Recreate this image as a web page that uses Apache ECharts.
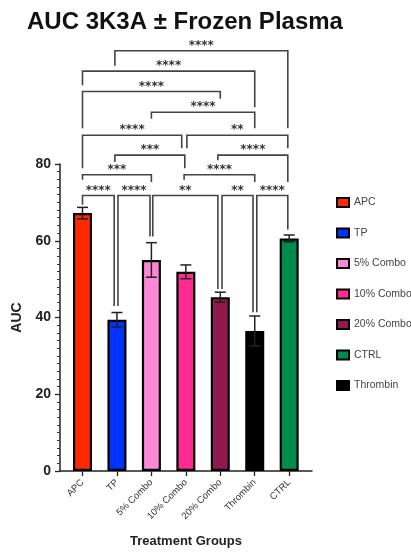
<!DOCTYPE html>
<html><head><meta charset="utf-8">
<script src="https://cdn.jsdelivr.net/npm/echarts@6/dist/echarts.min.js"></script>
<style>html,body{margin:0;padding:0;background:#fff}#c{width:411px;height:553px}</style>
</head><body><div id="c"></div>
<script>
const categories = ['APC','TP','5% Combo','10% Combo','20% Combo','Thrombin','CTRL'];
const means = [67.2, 39.4, 55.0, 51.9, 45.3, 36.5, 60.6];
const sds = [1.5, 1.9, 4.5, 1.8, 1.3, 3.9, 0.9];
const barColors = ['#ff2a00','#0033ff','#ff88d6','#ff2a92','#8e1a50','#000000','#008a4c'];
const legendOrder = ['APC','TP','5% Combo','10% Combo','20% Combo','CTRL','Thrombin'];
const yTicks = [0,20,40,60,80];

// significance brackets: group index from/to, bar level, drop ends (AUC units), stars
const bracketFrom = [0.94,0,0,2,0,3.03,0.94,3.93,0,2.95,0,1.03,2.04,4.05,5.06];
const bracketTo = [5.96,5,4,5,2.88,5.96,2.97,5.96,2,5,0.92,1.96,3.93,4.95,5.96];
const bracketLevel = [109.5,104.2,98.9,93.5,87.5,87.5,82.3,82.3,77.2,77.2,71.8,71.8,71.8,71.8,71.8];
const bracketLeftEnd = [105.6,100.5,89.3,91.8,78.9,84.1,80.5,81.0,75.9,75.9,69.4,43.0,61.1,47.4,41.4];
const bracketRightEnd = [89.3,94.8,97.0,89.3,84.1,84.1,78.9,75.3,75.3,75.3,43.0,61.1,47.4,41.4,62.9];
const bracketStars = ['****','****','****','****','****','**','***','****','***','****','****','****','**','**','****'];

const chart = echarts.init(document.getElementById('c'), null, {renderer:'canvas'});
const FONT = 'Liberation Sans, Arial, Helvetica, sans-serif';
const idx = categories.map((c,i)=>i);

const barSeries = categories.map((name,i)=>({
  name: name,
  type: 'bar',
  barWidth: 19,
  barGap: '-100%',
  data: [[i, means[i]]],
  itemStyle: {color: barColors[i], borderColor: '#000', borderWidth: 2.2},
  z: 2
}));

const errData = categories.map((c,i)=>[i, means[i], sds[i]]);
const errSeries = {
  type: 'custom',
  data: errData,
  z: 5,
  silent: true,
  renderItem: function(params, api){
    const x = api.value(0), m = api.value(1), s = api.value(2);
    const top = api.coord([x, m + s]);
    const bot = api.coord([x, m - s]);
    const hw = 5.5;
    const st = {stroke:'#222', lineWidth:1.5, fill:null};
    return {type:'group', children:[
      {type:'line', shape:{x1:top[0],y1:top[1],x2:bot[0],y2:bot[1]}, style:st},
      {type:'line', shape:{x1:top[0]-hw,y1:top[1],x2:top[0]+hw,y2:top[1]}, style:st},
      {type:'line', shape:{x1:bot[0]-hw,y1:bot[1],x2:bot[0]+hw,y2:bot[1]}, style:st}
    ]};
  }
};

const brData = bracketFrom.map((f,i)=>[f, bracketTo[i], bracketLevel[i], bracketLeftEnd[i], bracketRightEnd[i], i]);
const brSeries = {
  type: 'custom',
  data: brData,
  clip: false,
  silent: true,
  z: 4,
  renderItem: function(params, api){
    const f = api.value(0), t = api.value(1), lv = api.value(2), le = api.value(3), re = api.value(4);
    const k = api.value(5);
    const pL = api.coord([f, lv]), pR = api.coord([t, lv]);
    const pLe = api.coord([f, le]), pRe = api.coord([t, re]);
    return {type:'group', children:[
      {type:'polyline', shape:{points:[[pLe[0],pLe[1]],[pL[0],pL[1]],[pR[0],pR[1]],[pRe[0],pRe[1]]]},
       style:{stroke:'#444', lineWidth:1.6, fill:null}},
      {type:'text', style:{text:bracketStars[k], x:(pL[0]+pR[0])/2, y:pL[1]-5,
        textAlign:'center', textVerticalAlign:'middle', font:'bold 12px DejaVu Sans, sans-serif', fill:'#333'}}
    ]};
  }
};

chart.setOption({
  animation: false,
  title: {text:'AUC 3K3A ± Frozen Plasma', left:22, top:5,
    textStyle:{fontFamily:FONT, fontWeight:'bold', fontSize:24, color:'#111'}},
  legend: {
    data: legendOrder,
    orient: 'vertical',
    left: 331, top: 192,
    itemWidth: 12, itemHeight: 9, itemGap: 19.5,
    icon: 'rect',
    textStyle: {fontFamily:FONT, fontSize:10.5, color:'#444'}
  },
  grid: {left:60, top:164, width:252, height:309, containLabel:false},
  xAxis: {
    type: 'value',
    min: -0.653, max: 6.662,
    name: 'Treatment Groups',
    nameLocation: 'middle',
    nameGap: 64,
    nameTextStyle: {fontFamily:FONT, fontWeight:'bold', fontSize:13, color:'#222'},
    axisLine: {show:true, onZero:false, lineStyle:{color:'#222', width:1.5}},
    axisTick: {show:true, customValues: idx, length:5, lineStyle:{color:'#222', width:1.3}},
    axisLabel: {customValues: idx, rotate:45, fontFamily:FONT, fontSize:9.5, color:'#333', margin:10,
      formatter: function(v){ return categories[Math.round(v)]; }},
    splitLine: {show:false}
  },
  yAxis: {
    type: 'value',
    min: 0, max: 80, interval: 20,
    name: 'AUC',
    nameLocation: 'middle',
    nameGap: 25,
    nameTextStyle: {fontFamily:FONT, fontWeight:'bold', fontSize:14, color:'#222'},
    axisLine: {show:true, onZero:false, lineStyle:{color:'#222', width:1.5}},
    axisTick: {show:true, length:5, lineStyle:{color:'#222', width:1.3}},
    minorTick: {show:true, splitNumber:10, length:3, lineStyle:{color:'#333', width:1}},
    axisLabel: {fontFamily:FONT, fontSize:14, fontWeight:'bold', color:'#222', margin:9},
    splitLine: {show:false}
  },
  series: barSeries.concat([brSeries, errSeries])
});
</script></body></html>
